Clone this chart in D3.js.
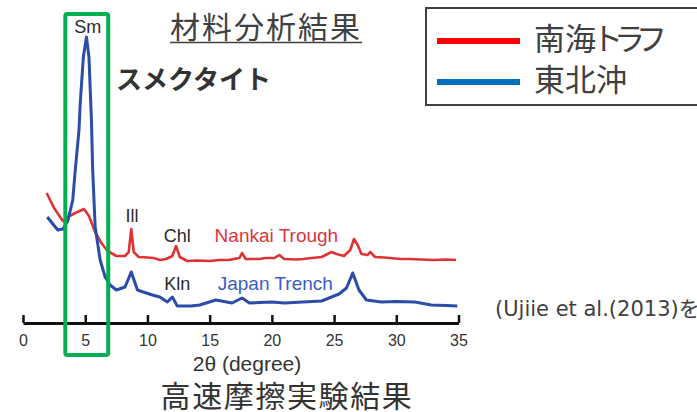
<!DOCTYPE html>
<html>
<head>
<meta charset="utf-8">
<script src="https://cdn.jsdelivr.net/npm/d3@7"></script>
<style>
  body { margin: 0; background: #fff; }
  svg { display: block; }
  .jp { font-family: "Noto Sans CJK JP", "Noto Sans", sans-serif; }
  .lat { font-family: "Liberation Sans", Arial, sans-serif; }
</style>
</head>
<body>
<div id="chart"></div>
<script>
// XRD patterns, 2θ (degree) vs intensity (arbitrary counts)
const nankaiTwoTheta = [1.9, 2.5, 3.2, 3.6, 4.2, 4.9, 5.3, 5.8, 6.3, 6.8, 7.5, 8.2, 8.5, 8.7, 8.9, 9.3, 10.0, 10.5, 11.0, 11.5, 12.0, 12.3, 12.6, 13.2, 14.0, 15.0, 15.8, 16.5, 17.4, 17.6, 17.9, 19.0, 19.5, 20.2, 20.6, 21.0, 22.0, 22.5, 23.2, 24.0, 24.8, 25.2, 25.8, 26.3, 26.6, 26.9, 27.2, 27.7, 27.9, 28.3, 29.0, 29.5, 30.3, 31.0, 32.0, 33.0, 34.0, 34.8];
const nankaiIntensity = [1290, 1140, 1010, 1050, 1090, 1130, 1060, 900, 790, 710, 660, 660, 700, 930, 700, 650, 645, 640, 620, 630, 660, 760, 650, 610, 615, 610, 620, 620, 640, 690, 630, 630, 640, 640, 670, 630, 625, 630, 640, 650, 700, 680, 660, 720, 830, 770, 680, 670, 700, 650, 645, 640, 630, 630, 625, 620, 625, 620];

const japanTwoTheta = [1.95, 2.4, 2.8, 3.2, 3.6, 4.0, 4.2, 4.5, 4.6, 4.85, 5.1, 5.3, 5.5, 5.6, 5.8, 6.2, 6.6, 7.0, 7.5, 8.2, 8.7, 9.2, 9.9, 10.4, 11.0, 11.6, 12.0, 12.4, 13.5, 14.2, 15.5, 16.8, 17.6, 18.2, 19.0, 20.0, 21.0, 22.5, 24.0, 24.8, 25.4, 26.0, 26.5, 27.0, 27.6, 28.8, 30.0, 31.5, 32.8, 34.0, 34.9];
const japanIntensity = [1050, 980, 920, 930, 1010, 1220, 1520, 1920, 2190, 2650, 2850, 2650, 2020, 1520, 950, 620, 450, 370, 320, 350, 500, 320, 290, 270, 250, 200, 250, 160, 160, 170, 220, 190, 240, 190, 195, 200, 190, 200, 210, 250, 280, 340, 490, 320, 220, 200, 205, 200, 170, 165, 160];

const xTicks = [0, 5, 10, 15, 20, 25, 30, 35];
const smectiteRange = [3.4, 6.85];

const width = 697, height = 412;
const svg = d3.select('#chart').append('svg')
    .attr('width', width)
    .attr('height', height);

const x = d3.scaleLinear().domain([0, 35]).range([23, 458.5]);
const y = d3.scaleLinear().domain([0, 3000]).range([322, 22]);

const line = d3.line()
    .x(d => x(d[0]))
    .y(d => y(d[1]));

const nankai = d3.zip(nankaiTwoTheta, nankaiIntensity);
const japan = d3.zip(japanTwoTheta, japanIntensity);

svg.append('path')
    .datum(nankai)
    .attr('d', line)
    .attr('fill', 'none')
    .attr('stroke', '#dc3434')
    .attr('stroke-width', 2.6)
    .attr('stroke-linejoin', 'round');

svg.append('path')
    .datum(japan)
    .attr('d', line)
    .attr('fill', 'none')
    .attr('stroke', '#2b4ca8')
    .attr('stroke-width', 3)
    .attr('stroke-linejoin', 'round');

// axis with upward ticks
const axis = svg.append('g')
    .attr('transform', 'translate(0,323)')
    .call(d3.axisBottom(x).tickValues(xTicks).tickSizeInner(-8).tickSizeOuter(0).tickPadding(12));
axis.select('.domain').attr('stroke', '#111').attr('stroke-width', 3);
axis.selectAll('.tick line').attr('stroke', '#111').attr('stroke-width', 2.5);
axis.selectAll('.tick text')
    .attr('class', 'lat')
    .attr('font-size', 16)
    .attr('fill', '#333');

svg.append('text')
    .attr('class', 'lat')
    .attr('x', 247).attr('y', 371)
    .attr('text-anchor', 'middle')
    .attr('font-size', 21)
    .attr('fill', '#333')
    .text('2θ (degree)');

// peak labels
const peakLabels = [
    { t: 'Sm', tt: 5.2, v: 2890 },
    { t: 'Ill', tt: 8.75, v: 1000 },
    { t: 'Chl', tt: 12.4, v: 800 },
    { t: 'Kln', tt: 12.4, v: 320 }
];
svg.selectAll('.peak')
    .data(peakLabels)
    .enter().append('text')
    .attr('class', 'lat')
    .attr('x', d => x(d.tt))
    .attr('y', d => y(d.v))
    .attr('text-anchor', 'middle')
    .attr('font-size', 18)
    .attr('fill', '#2a2a2a')
    .text(d => d.t);

svg.append('text')
    .attr('class', 'lat')
    .attr('x', x(15.4)).attr('y', y(800))
    .attr('font-size', 19)
    .attr('fill', '#d9363e')
    .text('Nankai Trough');

svg.append('text')
    .attr('class', 'lat')
    .attr('x', x(15.65)).attr('y', y(320))
    .attr('font-size', 19)
    .attr('fill', '#3a5cc0')
    .text('Japan Trench');

// smectite highlight box
svg.append('rect')
    .attr('x', x(smectiteRange[0]))
    .attr('y', 14)
    .attr('width', x(smectiteRange[1]) - x(smectiteRange[0]))
    .attr('height', 341)
    .attr('rx', 2)
    .attr('fill', 'none')
    .attr('stroke', '#00b050')
    .attr('stroke-width', 4);

svg.append('text')
    .attr('class', 'jp')
    .attr('x', 116).attr('y', 89)
    .attr('font-size', 26)
    .attr('font-weight', 'bold')
    .attr('fill', '#333')
    .text('スメクタイト');

svg.append('text')
    .attr('class', 'jp')
    .attr('x', 170).attr('y', 38)
    .attr('font-size', 30)
    .attr('letter-spacing', 2)
    .attr('fill', '#404040')
    .text('材料分析結果');
svg.append('line')
    .attr('x1', 170).attr('x2', 362)
    .attr('y1', 42.5).attr('y2', 42.5)
    .attr('stroke', '#404040')
    .attr('stroke-width', 1.5);

svg.append('text')
    .attr('class', 'jp')
    .attr('x', 287).attr('y', 407)
    .attr('text-anchor', 'middle')
    .attr('font-size', 30)
    .attr('letter-spacing', 1.6)
    .attr('fill', '#333')
    .text('高速摩擦実験結果');

svg.append('text')
    .attr('x', 495).attr('y', 316)
    .attr('font-family', '"DejaVu Sans", "Noto Sans CJK JP", sans-serif')
    .attr('font-size', 21)
    .attr('fill', '#404040')
    .text('(Ujiie et al.(2013)を');

// legend
const legend = svg.append('g');
legend.append('rect')
    .attr('x', 426).attr('y', 8)
    .attr('width', 290).attr('height', 97)
    .attr('fill', '#fff')
    .attr('stroke', '#404040')
    .attr('stroke-width', 2);
const legendItems = [
    { head: '南海', tail: 'トラフ', color: '#ff0000', ly: 41 },
    { head: '東北沖', tail: '', color: '#0070c0', ly: 82 }
];
legendItems.forEach(d => {
    legend.append('line')
        .attr('x1', 437).attr('x2', 520)
        .attr('y1', d.ly).attr('y2', d.ly)
        .attr('stroke', d.color)
        .attr('stroke-width', 6);
    const t = legend.append('text')
        .attr('class', 'jp')
        .attr('x', 534).attr('y', d.ly + 9)
        .attr('font-size', 31)
        .attr('fill', '#404040');
    t.append('tspan').text(d.head);
    if (d.tail) {
        t.append('tspan')
            .attr('letter-spacing', -9)
            .attr('dx', -4)
            .text(d.tail);
    }
});
</script>
</body>
</html>
